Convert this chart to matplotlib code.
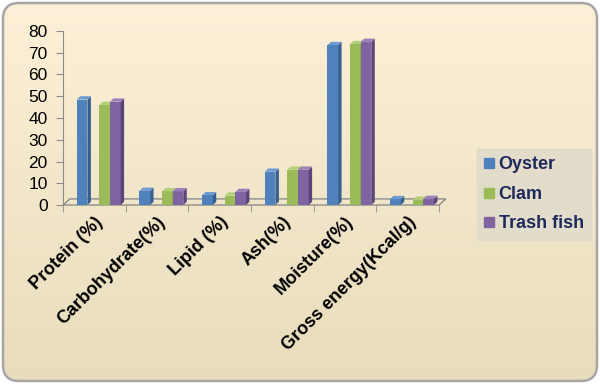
import matplotlib
matplotlib.use("Agg")
import matplotlib.pyplot as plt
import numpy as np
from matplotlib.patches import Polygon, FancyBboxPatch
from matplotlib.lines import Line2D

plt.rcParams['font.family'] = ['Liberation Sans', 'DejaVu Sans']

categories = ["Protein (%)", "Carbohydrate(%)", "Lipid (%)", "Ash(%)",
              "Moisture(%)", "Gross energy(Kcal/g)"]
series_names = ["Oyster", "Clam", "Trash fish"]
oyster = [48.5, 6.5, 4.5, 15.3, 73.5, 2.7]
clam = [46.0, 6.3, 4.3, 16.2, 74.0, 2.4]
trash_fish = [47.5, 6.3, 6.0, 16.2, 75.0, 2.8]
y_ticks = [0, 10, 20, 30, 40, 50, 60, 70, 80]

front_colors = ["#4F81BD", "#9BBB59", "#8064A2"]
side_colors = ["#365E8F", "#6F8C3A", "#5A447A"]
top_colors = ["#6E9AD0", "#B3CF78", "#9A80BA"]

fig = plt.figure(figsize=(6, 3.84), dpi=100)
fig.patch.set_facecolor("white")

# background gradient with rounded border
bg = fig.add_axes([0, 0, 1, 1], zorder=-5)
bg.set_xlim(0, 600)
bg.set_ylim(0, 384)
bg.axis("off")
grad = np.linspace(0, 1, 256).reshape(-1, 1)
top_c = np.array([253, 240, 216]) / 255
bot_c = np.array([231, 221, 188]) / 255
img = top_c * (1 - grad[..., None]) + bot_c * grad[..., None]
im = bg.imshow(img, extent=[0, 600, 0, 384], aspect="auto", origin="upper")
box = FancyBboxPatch((3, 3), 594, 378, boxstyle="round,pad=0,rounding_size=16",
                     facecolor="none", edgecolor="#A6A6A6", linewidth=1.8)
bg.add_patch(box)
im.set_clip_path(box)

ax = fig.add_axes([63 / 600, 1 - 205 / 384, 376 / 600, 174 / 384])
ax.patch.set_alpha(0)

x = np.arange(len(categories))
offsets = [0.22, 0.58, 0.75]
w = 0.17
dx, dy = 0.055, 1.5
fdx, fdy = 0.11, 2.8

# floor
floor = Polygon([(0, 0), (6, 0), (6 + fdx, fdy), (fdx, fdy)], closed=True,
                facecolor="none", edgecolor="#8C8C8C", linewidth=1, clip_on=False)
ax.add_patch(floor)

all_vals = [oyster, clam, trash_fish]
for i, vals in enumerate(all_vals):
    x0s = x + offsets[i]
    ax.bar(x0s, vals, w, align="edge", color=front_colors[i], linewidth=0, zorder=3 + i,
           label=series_names[i])
    for a, v in zip(x0s, vals):
        side = Polygon([(a + w, 0), (a + w + dx, dy), (a + w + dx, v + dy), (a + w, v)],
                       closed=True, facecolor=side_colors[i], linewidth=0,
                       zorder=3 + i, clip_on=False)
        top = Polygon([(a, v), (a + w, v), (a + w + dx, v + dy), (a + dx, v + dy)],
                      closed=True, facecolor=top_colors[i], linewidth=0,
                      zorder=3 + i, clip_on=False)
        ax.add_patch(side)
        ax.add_patch(top)

ax.set_xlim(0, 6)
ax.set_ylim(0, 80)
ax.set_yticks(y_ticks)
ax.set_yticklabels([str(t) for t in y_ticks], fontsize=12.5)
ax.set_xticks(x + 0.5)
ax.set_xticklabels(categories, rotation=45, ha="right", va="top",
                   rotation_mode="anchor", fontsize=13, fontweight="bold")
ax.set_xticks(np.arange(7), minor=True)
ax.tick_params(axis="x", which="major", length=0, pad=6)
ax.tick_params(axis="x", which="minor", length=5, color="#8C8C8C", direction="out")
ax.tick_params(axis="y", length=5, color="#8C8C8C", direction="out", pad=6)
for s in ["top", "right", "bottom"]:
    ax.spines[s].set_visible(False)
ax.spines["left"].set_color("#8C8C8C")

handles = [Line2D([], [], marker="s", linestyle="none", markersize=6.5,
                  markerfacecolor=c, markeredgecolor=c) for c in front_colors]
leg = fig.legend(handles, series_names, loc="upper left",
                 bbox_to_anchor=(477 / 600, 1 - 149 / 384), borderaxespad=0,
                 frameon=True, fancybox=False, handlelength=0.55, handletextpad=0.25,
                 labelspacing=0.7, borderpad=0.4,
                 prop={"size": 13, "weight": "bold"})
leg.get_frame().set_facecolor("#DFDACB")
leg.get_frame().set_edgecolor("#DFDACB")
for t in leg.get_texts():
    t.set_color("#1F2A5C")

fig.savefig("out.png", dpi=100)
